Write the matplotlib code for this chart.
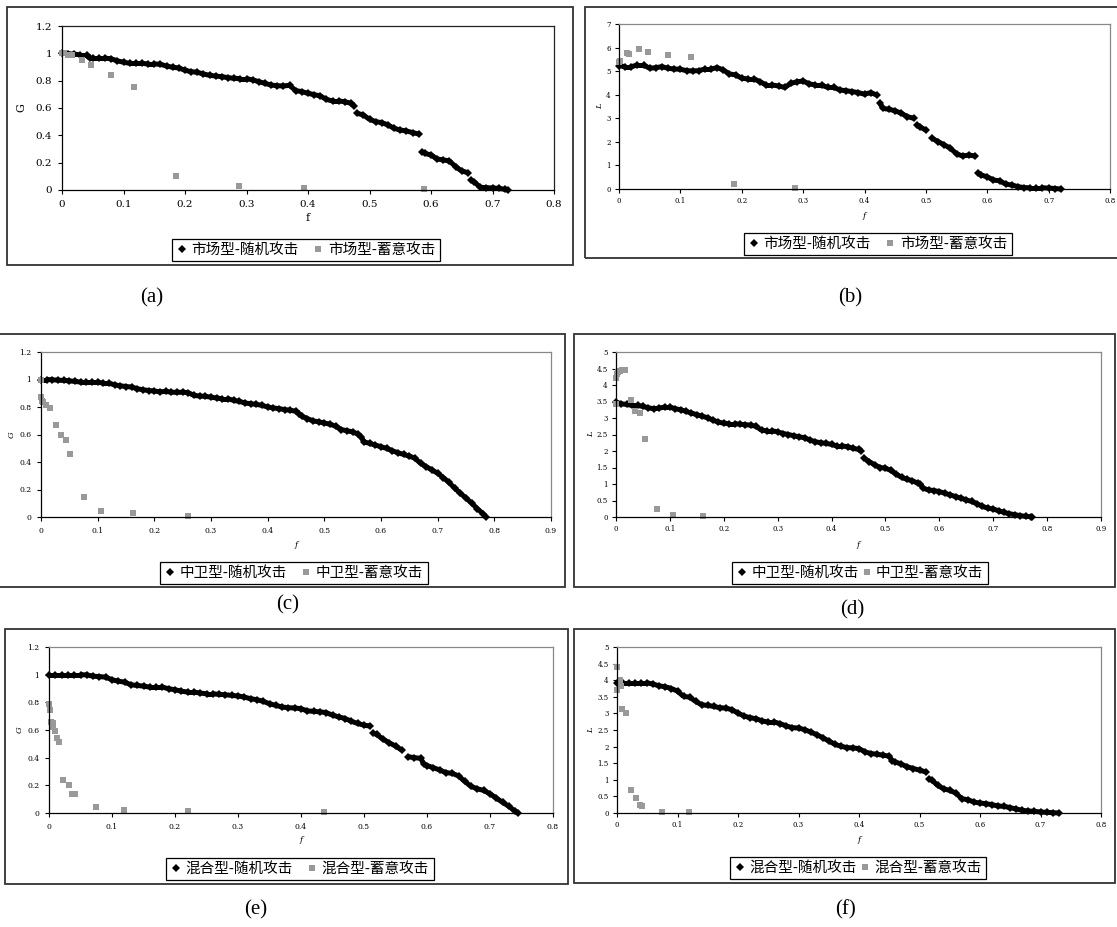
import numpy as np
import matplotlib
matplotlib.use('Agg')
import matplotlib.pyplot as plt
from matplotlib.patches import Rectangle
from matplotlib.lines import Line2D
from matplotlib.collections import LineCollection
from matplotlib.ticker import MultipleLocator, FuncFormatter

W, H = 1117, 927

# ---- data ----
# (a) market type, efficiency G
fa_rand = [0.00, 0.01, 0.02, 0.03, 0.04, 0.045, 0.05, 0.06, 0.07, 0.08, 0.09,
           0.10, 0.11, 0.12, 0.13, 0.14, 0.15, 0.16, 0.17, 0.18, 0.19,
           0.20, 0.21, 0.22, 0.23, 0.24, 0.25, 0.26, 0.27, 0.28, 0.29,
           0.30, 0.31, 0.32, 0.33, 0.34, 0.35, 0.36, 0.37, 0.38, 0.39,
           0.40, 0.41, 0.42, 0.43, 0.44, 0.45, 0.46, 0.47, 0.475, 0.48, 0.49,
           0.50, 0.51, 0.52, 0.53, 0.54, 0.55, 0.56, 0.57, 0.58, 0.585, 0.59,
           0.60, 0.61, 0.62, 0.63, 0.64, 0.65, 0.66, 0.665, 0.67, 0.68, 0.69,
           0.70, 0.71, 0.72, 0.725]
Ga_rand = [1.0, 0.998, 0.993, 0.99, 0.99, 0.965, 0.965, 0.965, 0.965, 0.96, 0.945,
           0.935, 0.927, 0.927, 0.927, 0.922, 0.922, 0.92, 0.907, 0.898, 0.893,
           0.876, 0.866, 0.861, 0.849, 0.839, 0.834, 0.829, 0.822, 0.817, 0.815,
           0.815, 0.805, 0.793, 0.78, 0.768, 0.763, 0.761, 0.766, 0.727, 0.72,
           0.707, 0.698, 0.688, 0.663, 0.651, 0.651, 0.646, 0.634, 0.615, 0.561, 0.549,
           0.517, 0.5, 0.493, 0.476, 0.451, 0.439, 0.432, 0.42, 0.41, 0.28, 0.268,
           0.256, 0.227, 0.22, 0.212, 0.171, 0.139, 0.127, 0.073, 0.061, 0.02, 0.017,
           0.015, 0.012, 0.005, 0.0]
fa_del = [0.0, 0.003, 0.010, 0.016, 0.032, 0.047, 0.080, 0.117, 0.186, 0.287, 0.393, 0.588]
Ga_del = [1.0, 1.0, 0.99, 0.985, 0.951, 0.912, 0.839, 0.756, 0.102, 0.029, 0.012, 0.005]

# (b) market type, L
fb_rand = [0.00, 0.01, 0.02, 0.03, 0.04, 0.05, 0.06, 0.07, 0.08, 0.09,
           0.10, 0.11, 0.12, 0.13, 0.14, 0.15, 0.16, 0.17, 0.18, 0.19,
           0.20, 0.21, 0.22, 0.23, 0.24, 0.25, 0.26, 0.27, 0.28, 0.29,
           0.30, 0.31, 0.32, 0.33, 0.34, 0.35, 0.36, 0.37, 0.38, 0.39,
           0.40, 0.41, 0.42, 0.425, 0.43, 0.44, 0.45, 0.46, 0.47, 0.48, 0.485,
           0.49, 0.50, 0.51, 0.52, 0.53, 0.54, 0.55, 0.56, 0.57, 0.58, 0.585,
           0.59, 0.60, 0.61, 0.62, 0.63, 0.64, 0.65, 0.66, 0.67, 0.68, 0.69,
           0.70, 0.71, 0.72]
Lb_rand = [5.23, 5.19, 5.19, 5.26, 5.26, 5.12, 5.15, 5.19, 5.12, 5.09,
           5.08, 5.02, 5.01, 5.02, 5.09, 5.09, 5.15, 5.05, 4.88, 4.84,
           4.70, 4.67, 4.67, 4.55, 4.41, 4.41, 4.37, 4.31, 4.48, 4.55,
           4.58, 4.46, 4.41, 4.41, 4.31, 4.31, 4.20, 4.17, 4.13, 4.09,
           4.02, 4.09, 3.99, 3.64, 3.42, 3.38, 3.32, 3.21, 3.07, 3.00, 2.72,
           2.64, 2.50, 2.15, 2.01, 1.87, 1.73, 1.49, 1.40, 1.44, 1.40, 0.69,
           0.59, 0.52, 0.38, 0.35, 0.21, 0.17, 0.10, 0.06, 0.05, 0.05, 0.05,
           0.04, 0.02, 0.00]
fb_del = [0.0, 0.002, 0.013, 0.017, 0.032, 0.047, 0.080, 0.117, 0.187, 0.287]
Lb_del = [5.40, 5.45, 5.76, 5.73, 5.95, 5.80, 5.69, 5.60, 0.20, 0.03]

# (c) middle-guard type, G
fc_rand = [0.00, 0.01, 0.02, 0.03, 0.04, 0.05, 0.06, 0.07, 0.08, 0.09,
           0.10, 0.11, 0.12, 0.13, 0.14, 0.15, 0.16, 0.17, 0.18, 0.19,
           0.20, 0.21, 0.22, 0.23, 0.24, 0.25, 0.26, 0.27, 0.28, 0.29,
           0.30, 0.31, 0.32, 0.33, 0.34, 0.35, 0.36, 0.37, 0.38, 0.39,
           0.40, 0.41, 0.42, 0.43, 0.44, 0.45, 0.455,
           0.46, 0.47, 0.48, 0.49, 0.50, 0.51, 0.52, 0.53, 0.54, 0.55, 0.56, 0.565,
           0.57, 0.58, 0.59, 0.60, 0.61, 0.62, 0.63, 0.64, 0.65, 0.66,
           0.67, 0.68, 0.69, 0.70, 0.71, 0.72, 0.73, 0.74, 0.75, 0.76,
           0.77, 0.78, 0.785]
Gc_rand = [1.0, 1.0, 0.998, 0.995, 0.993, 0.99, 0.986, 0.981, 0.981, 0.981,
           0.981, 0.973, 0.973, 0.961, 0.954, 0.949, 0.945, 0.933, 0.925, 0.92,
           0.916, 0.911, 0.913, 0.908, 0.906, 0.908, 0.904, 0.884, 0.88, 0.877,
           0.872, 0.865, 0.86, 0.86, 0.848, 0.841, 0.829, 0.824, 0.819, 0.812,
           0.80, 0.793, 0.788, 0.781, 0.776, 0.769, 0.752,
           0.733, 0.716, 0.699, 0.692, 0.684, 0.675, 0.66, 0.636, 0.627, 0.619, 0.602, 0.583,
           0.547, 0.535, 0.523, 0.511, 0.499, 0.482, 0.467, 0.455, 0.443, 0.427,
           0.39, 0.366, 0.342, 0.318, 0.287, 0.251, 0.21, 0.173, 0.137, 0.101,
           0.06, 0.024, 0.0]
fc_del = [0.0, 0.0, 0.001, 0.003, 0.008, 0.015, 0.026, 0.035, 0.044, 0.052, 0.076, 0.105, 0.162, 0.260]
Gc_del = [1.0, 0.87, 0.843, 0.836, 0.812, 0.79, 0.667, 0.595, 0.557, 0.455, 0.145, 0.046, 0.027, 0.007]

# (d) middle-guard type, L
fd_rand = [0.00, 0.01, 0.02, 0.03, 0.04, 0.05, 0.06, 0.07, 0.08, 0.09,
           0.10, 0.11, 0.12, 0.13, 0.14, 0.15, 0.16, 0.17, 0.18, 0.19,
           0.20, 0.21, 0.22, 0.23, 0.24, 0.25, 0.26, 0.27, 0.28, 0.29,
           0.30, 0.31, 0.32, 0.33, 0.34, 0.35, 0.36, 0.37, 0.38, 0.39,
           0.40, 0.41, 0.42, 0.43, 0.44, 0.45, 0.455,
           0.46, 0.47, 0.48, 0.49, 0.50, 0.51, 0.52, 0.53, 0.54, 0.55, 0.56, 0.565,
           0.57, 0.58, 0.59, 0.60, 0.61, 0.62, 0.63, 0.64, 0.65, 0.66,
           0.67, 0.68, 0.69, 0.70, 0.71, 0.72, 0.73, 0.74, 0.75, 0.76,
           0.77, 0.772]
Ld_rand = [3.48, 3.43, 3.41, 3.38, 3.38, 3.35, 3.31, 3.28, 3.30, 3.33,
           3.33, 3.28, 3.25, 3.20, 3.15, 3.10, 3.05, 3.01, 2.93, 2.88,
           2.84, 2.83, 2.83, 2.81, 2.80, 2.78, 2.75, 2.63, 2.61, 2.61,
           2.58, 2.53, 2.50, 2.46, 2.43, 2.40, 2.33, 2.28, 2.25, 2.23,
           2.20, 2.15, 2.15, 2.13, 2.08, 2.05, 2.01,
           1.78, 1.68, 1.58, 1.50, 1.48, 1.41, 1.30, 1.20, 1.14, 1.10, 1.02, 1.00,
           0.87, 0.82, 0.80, 0.77, 0.72, 0.67, 0.62, 0.57, 0.52, 0.47,
           0.40, 0.32, 0.27, 0.24, 0.19, 0.14, 0.10, 0.07, 0.04, 0.02,
           0.01, 0.00]
fd_del = [0.0, 0.0, 0.001, 0.003, 0.007, 0.011, 0.016, 0.028, 0.036, 0.045, 0.053, 0.076, 0.106, 0.162]
Ld_del = [3.43, 4.20, 4.32, 4.39, 4.42, 4.45, 4.46, 3.54, 3.20, 3.15, 2.35, 0.24, 0.06, 0.02]

# (e) mixed type, G
fe_rand = [0.00, 0.01, 0.02, 0.03, 0.04, 0.05, 0.06, 0.07, 0.08, 0.09,
           0.10, 0.11, 0.12, 0.13, 0.14, 0.15, 0.16, 0.17, 0.18, 0.19,
           0.20, 0.21, 0.22, 0.23, 0.24, 0.25, 0.26, 0.27, 0.28, 0.29,
           0.30, 0.31, 0.32, 0.33, 0.34, 0.35, 0.36, 0.37, 0.38, 0.39,
           0.40, 0.41, 0.42, 0.43, 0.44, 0.45, 0.46, 0.47, 0.48, 0.49,
           0.50, 0.51, 0.515, 0.52, 0.53, 0.54, 0.55, 0.56, 0.57, 0.58, 0.59, 0.595,
           0.60, 0.61, 0.62, 0.63, 0.64, 0.65, 0.66, 0.67, 0.68, 0.69,
           0.70, 0.71, 0.72, 0.73, 0.74, 0.745]
Ge_rand = [1.0, 1.0, 1.0, 1.0, 1.0, 1.0, 0.998, 0.989, 0.986, 0.982,
           0.963, 0.953, 0.946, 0.927, 0.922, 0.917, 0.91, 0.91, 0.91, 0.898,
           0.891, 0.881, 0.874, 0.874, 0.867, 0.862, 0.862, 0.857, 0.855, 0.85,
           0.846, 0.838, 0.826, 0.819, 0.807, 0.79, 0.778, 0.766, 0.761, 0.759,
           0.754, 0.738, 0.735, 0.731, 0.726, 0.707, 0.695, 0.683, 0.663, 0.647,
           0.635, 0.628, 0.575, 0.568, 0.534, 0.508, 0.484, 0.455, 0.407, 0.40, 0.395, 0.352,
           0.343, 0.328, 0.311, 0.292, 0.287, 0.268, 0.228, 0.192, 0.175, 0.163,
           0.139, 0.108, 0.077, 0.048, 0.012, 0.0]
fe_del = [0.0, 0.001, 0.003, 0.006, 0.007, 0.010, 0.012, 0.016, 0.023, 0.032, 0.037, 0.041, 0.074, 0.119, 0.220, 0.437]
Ge_del = [0.79, 0.743, 0.659, 0.651, 0.623, 0.592, 0.539, 0.51, 0.24, 0.206, 0.134, 0.134, 0.041, 0.022, 0.014, 0.007]

# (f) mixed type, L
ff_rand = [0.00, 0.01, 0.02, 0.03, 0.04, 0.05, 0.06, 0.07, 0.08, 0.09,
           0.10, 0.11, 0.12, 0.13, 0.14, 0.15, 0.16, 0.17, 0.18, 0.19,
           0.20, 0.21, 0.22, 0.23, 0.24, 0.25, 0.26, 0.27, 0.28, 0.29,
           0.30, 0.31, 0.32, 0.33, 0.34, 0.35, 0.36, 0.37, 0.38, 0.39,
           0.40, 0.41, 0.42, 0.43, 0.44, 0.45, 0.455,
           0.46, 0.47, 0.48, 0.49, 0.50, 0.51, 0.515,
           0.52, 0.53, 0.54, 0.55, 0.56, 0.57, 0.58, 0.59,
           0.60, 0.61, 0.62, 0.63, 0.64, 0.65, 0.66, 0.67, 0.68, 0.69,
           0.70, 0.71, 0.72, 0.73]
Lf_rand = [3.92, 3.92, 3.92, 3.92, 3.92, 3.92, 3.88, 3.83, 3.80, 3.75,
           3.67, 3.51, 3.49, 3.36, 3.26, 3.24, 3.21, 3.17, 3.16, 3.11,
           3.01, 2.92, 2.87, 2.84, 2.77, 2.74, 2.74, 2.69, 2.62, 2.57,
           2.56, 2.51, 2.44, 2.36, 2.27, 2.17, 2.07, 2.01, 1.97, 1.96,
           1.94, 1.84, 1.79, 1.77, 1.74, 1.71, 1.57,
           1.54, 1.47, 1.39, 1.34, 1.29, 1.24, 1.03,
           1.00, 0.83, 0.73, 0.68, 0.60, 0.43, 0.40, 0.33,
           0.30, 0.28, 0.25, 0.21, 0.20, 0.16, 0.12, 0.08, 0.06, 0.05,
           0.03, 0.02, 0.01, 0.00]
ff_del = [0.0, 0.0, 0.005, 0.006, 0.009, 0.015, 0.023, 0.032, 0.038, 0.041, 0.075, 0.119]
Lf_del = [4.40, 3.69, 4.02, 3.82, 3.14, 3.01, 0.68, 0.46, 0.25, 0.20, 0.02, 0.02]

names_market = ['市场型-随机攻击', '市场型-蓄意攻击']
names_middle = ['中卫型-随机攻击', '中卫型-蓄意攻击']
names_mixed = ['混合型-随机攻击', '混合型-蓄意攻击']

# panel layout in pixels: frame box, plot box (l, t, r, b)
panels = [
    dict(frame=(7, 7, 573, 265), box=(62, 26, 554, 190), fr=fa_rand, yr=Ga_rand, fd=fa_del, yd=Ga_del,
         xmax=0.8, ymax=1.2, ystep=0.2, ylab='G', names=names_market, leg=(306, 250), cs=1.0,
         cap=('(a)', 152, 298), tick_fs=7.5, pad=4, lab_fs=8, italic=False, ylab_x=21, xlab_y=218,
         spine='#222222'),
    dict(frame=(585, 7, 1125, 258), box=(619, 24, 1110, 189), fr=fb_rand, yr=Lb_rand, fd=fb_del, yd=Lb_del,
         xmax=0.8, ymax=7, ystep=1, ylab='L', names=names_market, leg=(878, 244), cs=1.0,
         cap=('(b)', 850, 298), tick_fs=5, pad=3, lab_fs=6, italic=True, ylab_x=600, xlab_y=216,
         spine='#888888'),
    dict(frame=(-3, 334, 565, 587), box=(41, 352, 551, 517), fr=fc_rand, yr=Gc_rand, fd=fc_del, yd=Gc_del,
         xmax=0.9, ymax=1.2, ystep=0.2, ylab='G', names=names_middle, leg=(294, 573), cs=1.0,
         cap=('(c)', 288, 605), tick_fs=5.5, pad=4, lab_fs=6, italic=True, ylab_x=12, xlab_y=545,
         spine='#888888'),
    dict(frame=(574, 334, 1115, 587), box=(616, 352, 1101, 517), fr=fd_rand, yr=Ld_rand, fd=fd_del, yd=Ld_del,
         xmax=0.9, ymax=5, ystep=0.5, ylab='L', names=names_middle, leg=(860, 573), cs=0.2,
         cap=('(d)', 852, 610), tick_fs=5, pad=3, lab_fs=6, italic=True, ylab_x=591, xlab_y=545,
         spine='#888888'),
    dict(frame=(5, 629, 568, 884), box=(49, 647, 553, 813), fr=fe_rand, yr=Ge_rand, fd=fe_del, yd=Ge_del,
         xmax=0.8, ymax=1.2, ystep=0.2, ylab='G', names=names_mixed, leg=(300, 869), cs=1.0,
         cap=('(e)', 256, 910), tick_fs=5.5, pad=4, lab_fs=6, italic=True, ylab_x=20, xlab_y=840,
         spine='#888888'),
    dict(frame=(574, 629, 1115, 883), box=(617, 647, 1101, 813), fr=ff_rand, yr=Lf_rand, fd=ff_del, yd=Lf_del,
         xmax=0.8, ymax=5, ystep=0.5, ylab='L', names=names_mixed, leg=(858, 868), cs=0.2,
         cap=('(f)', 845, 910), tick_fs=5, pad=3, lab_fs=6, italic=True, ylab_x=591, xlab_y=840,
         spine='#888888'),
]

BLACK = '#000000'
GREY = '#999999'
cjk = ['Noto Sans CJK SC', 'DejaVu Sans']

fig = plt.figure(figsize=(W / 100, H / 100), dpi=100)


def fx(x):
    return x / W


def fy(y):
    return 1 - y / H


for p in panels:
    l, t, r, b = p['frame']
    fig.patches.append(Rectangle((fx(l), fy(b)), (r - l) / W, (b - t) / H, transform=fig.transFigure,
                                 fill=False, ec='#333333', lw=1.3))
    l, t, r, b = p['box']
    ax = fig.add_axes([fx(l), fy(b), (r - l) / W, (b - t) / H])
    ax.set_xlim(0, p['xmax'])
    ax.set_ylim(0, p['ymax'])

    # the random-attack points are so dense that they merge into a band;
    # join neighbours unless the curve jumps (there the original leaves a gap)
    xy = np.column_stack([p['fr'], p['yr']])
    pix = ax.transData.transform(xy)
    segs = [xy[i:i + 2] for i in range(len(xy) - 1) if abs(pix[i + 1, 1] - pix[i, 1]) <= 6.5]
    ax.add_collection(LineCollection(segs, colors=BLACK, linewidths=3.6, capstyle='butt', clip_on=False))
    ax.plot(p['fr'], p['yr'], ls='none', marker='D', ms=3.8, mew=0, color=BLACK, clip_on=False)
    ax.plot(p['fd'], p['yd'], ls='none', marker='s', ms=4.3, mew=0, color=GREY, clip_on=False)

    ax.xaxis.set_major_locator(MultipleLocator(0.1))
    ax.yaxis.set_major_locator(MultipleLocator(p['ystep']))
    fmt = FuncFormatter(lambda v, pos: '%g' % round(v, 2))
    ax.xaxis.set_major_formatter(fmt)
    ax.yaxis.set_major_formatter(fmt)
    ax.tick_params(direction='out', length=3, width=0.8, pad=p['pad'], labelsize=p['tick_fs'])
    for lab in ax.get_xticklabels() + ax.get_yticklabels():
        lab.set_family('DejaVu Serif')
    for s in ['left', 'bottom']:
        ax.spines[s].set_color(BLACK)
        ax.spines[s].set_linewidth(0.9)
    for s in ['top', 'right']:
        ax.spines[s].set_color(p['spine'])
        ax.spines[s].set_linewidth(0.9)
    style = 'italic' if p['italic'] else 'normal'
    fig.text(fx(p['ylab_x']), fy((t + b) / 2), p['ylab'], rotation=90, ha='center', va='center',
             family='DejaVu Serif', style=style, size=p['lab_fs'])
    fig.text(fx((l + r) / 2), fy(p['xlab_y']), 'f', ha='center', va='center',
             family='DejaVu Serif', style=style, size=p['lab_fs'])

    handles = [Line2D([], [], ls='none', marker='D', ms=3.6, mew=0, color=BLACK),
               Line2D([], [], ls='none', marker='s', ms=4.3, mew=0, color=GREY)]
    leg = fig.legend(handles, p['names'], loc='center', bbox_to_anchor=(fx(p['leg'][0]), fy(p['leg'][1])),
                     ncol=2, frameon=True, fancybox=False, framealpha=1, edgecolor=BLACK,
                     prop=dict(family=cjk, size=10.5), handlelength=0.7, handletextpad=0.3,
                     columnspacing=p['cs'], borderpad=0.3, borderaxespad=0)
    leg.get_frame().set_linewidth(0.9)

    txt, cx, cy = p['cap']
    fig.text(fx(cx), fy(cy), txt, ha='center', va='center', family='Liberation Serif', size=15)

fig.savefig('out.png', dpi=100)
